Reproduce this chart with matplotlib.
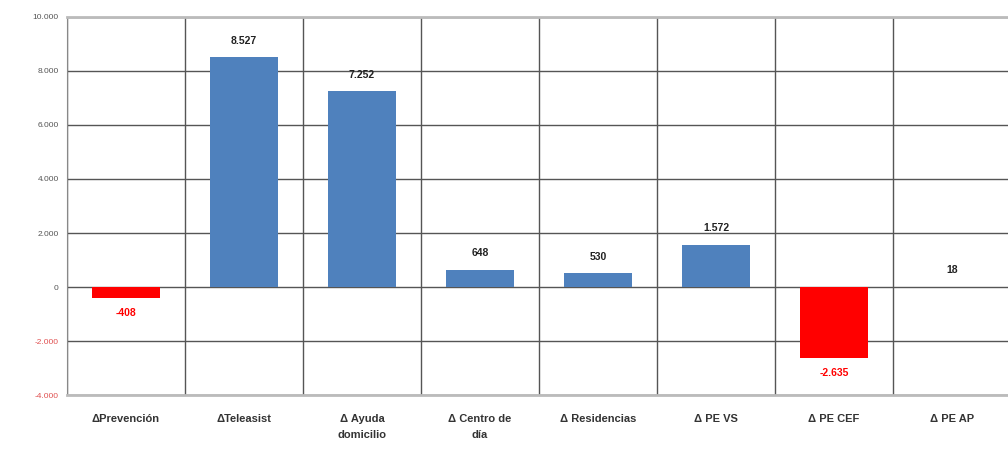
import matplotlib.pyplot as plt
import numpy as np

categorias = ["ΔPrevención", "ΔTeleasist", "Δ Ayuda\ndomicilio", "Δ Centro de\ndía",
              "Δ Residencias", "Δ PE VS", "Δ PE CEF", "Δ PE AP"]
valores = [-408, 8527, 7252, 648, 530, 1572, -2635, 18]
marcas_y = [-4000, -2000, 0, 2000, 4000, 6000, 8000, 10000]


def miles(v):
    return f"{v:,}".replace(",", ".")


plt.rcParams["font.family"] = ["Liberation Sans", "DejaVu Sans"]

fig = plt.figure(figsize=(10.08, 4.61), dpi=100)
ax = fig.add_axes([67 / 1008, 66 / 461, 944 / 1008, 378 / 461])

x = np.arange(len(categorias))
colores = ["#FF0000" if v < 0 else "#4F81BD" for v in valores]
ax.bar(x, valores, width=0.57, color=colores, zorder=3)

# Etiquetas de valor
for xi, v in zip(x, valores):
    if v < 0:
        ax.annotate(miles(v), (xi, v), xytext=(0, -7), textcoords="offset points",
                    ha="center", va="top", fontsize=7.5, fontweight="bold", color="#FF0000")
    else:
        ax.annotate(miles(v), (xi, v), xytext=(0, 8), textcoords="offset points",
                    ha="center", va="bottom", fontsize=7.5, fontweight="bold", color="#222222")

ax.set_xlim(-0.5, len(categorias) - 0.5)
ax.set_ylim(-4000, 10000)
ax.set_yticks(marcas_y)
ax.set_yticklabels([miles(v) for v in marcas_y], fontsize=6)
for lbl, v in zip(ax.get_yticklabels(), marcas_y):
    lbl.set_color("#E05050" if v < 0 else "#555555")

ax.set_xticks(x)
ax.set_xticklabels(categorias, fontsize=8, fontweight="bold", color="#333333",
                   linespacing=1.7)
ax.set_xticks(np.arange(len(categorias) + 1) - 0.5, minor=True)

ax.grid(axis="y", which="major", color="#555555", linewidth=1, zorder=0)
ax.grid(axis="x", which="minor", color="#555555", linewidth=1, zorder=0)
ax.tick_params(axis="both", which="both", length=0, pad=6)
ax.tick_params(axis="x", pad=14)

for lado in ["top", "bottom"]:
    ax.spines[lado].set_color("#BBBBBB")
    ax.spines[lado].set_linewidth(2)
ax.spines["left"].set_color("#888888")
ax.spines["right"].set_visible(False)

fig.savefig("out.png", dpi=100)
